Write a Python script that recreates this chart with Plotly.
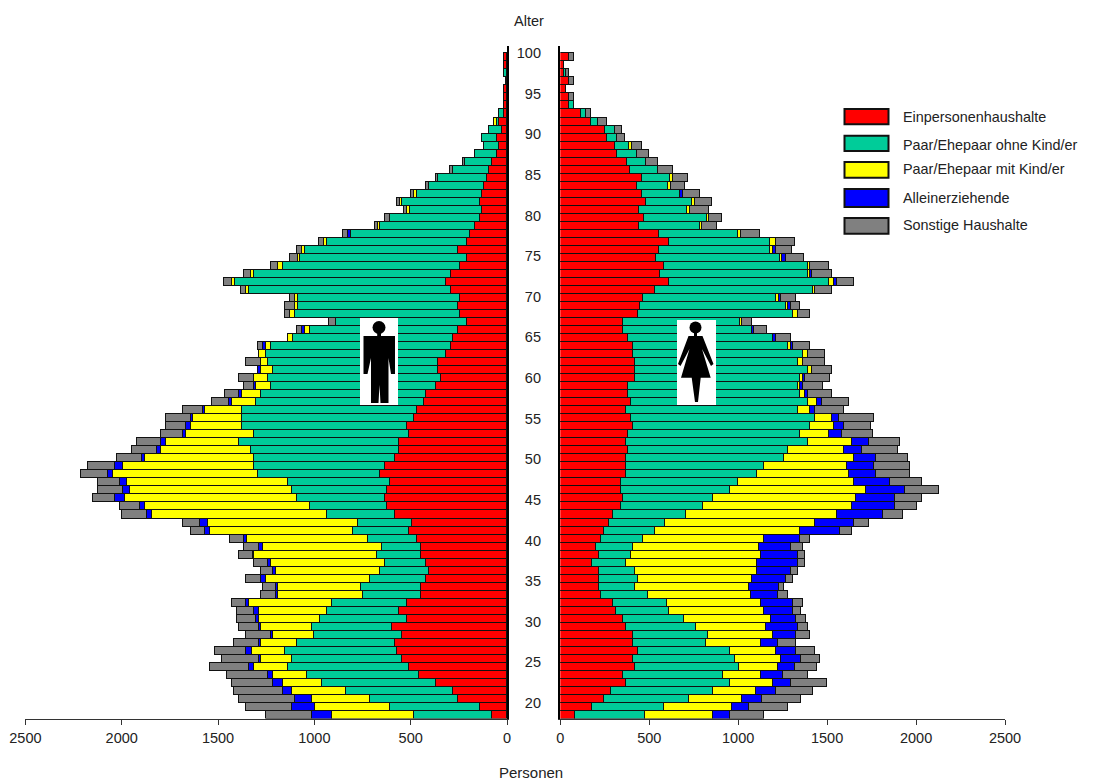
import plotly.graph_objects as go

W, H = 1114, 781
ages = list(range(18, 101))
age_labels = list(range(20, 101, 5))
series_names = ["Einpersonenhaushalte", "Paar/Ehepaar ohne Kind/er", "Paar/Ehepaar mit Kind/er",
                "Alleinerziehende", "Sonstige Haushalte"]
colors = ["#FF0000", "#00CC99", "#FFFF00", "#0000FF", "#808080"]

male_single = [74,139,254,278,367,454,506,543,569,580,543,595,519,556,519,443,443,417,404,417,443,443,467,506,493,580,619,632,619,606,656,632,580,556,556,506,519,480,467,430,417,367,341,354,354,315,291,278,254,204,241,254,241,291,315,291,241,204,254,204,191,165,139,128,139,128,115,102,91,76,52,41,52,26,41,15,15,15,15,4,0,15,15]
male_couple = [408,467,454,556,593,584,630,569,580,506,456,415,452,378,389,304,313,291,254,215,228,202,254,291,278,354,404,454,493,530,632,680,732,769,832,806,856,895,908,871,858,856,897,858,884,934,932,832,767,680,856,830,843,1047,1097,1021,921,867,791,728,615,491,465,376,404,339,289,252,187,139,113,74,76,63,11,26,0,0,0,0,15,0,0]
male_family = [426,389,302,278,202,176,176,161,174,187,213,263,315,352,428,439,430,539,539,591,641,617,628,741,780,908,856,893,841,832,756,680,567,467,378,352,263,254,189,124,100,76,74,61,35,37,26,26,26,0,28,13,13,13,13,13,24,13,15,15,0,13,0,13,11,15,0,0,0,0,0,0,0,0,13,0,0,0,0,0,0,0,0]
male_lone = [102,117,87,50,52,24,26,13,28,13,13,13,15,26,17,13,13,28,15,15,2,24,13,26,39,26,26,52,39,37,24,39,13,24,26,15,26,11,13,15,13,13,0,15,0,0,13,0,17,0,0,0,0,0,0,0,0,0,0,0,15,0,0,0,0,0,0,0,0,0,0,0,0,0,0,0,0,0,0,0,0,0,0]
male_other = [239,241,293,252,213,213,202,191,163,128,126,102,100,89,74,76,65,78,63,74,76,76,76,76,89,126,102,117,128,115,141,141,128,128,126,113,102,126,102,89,76,50,76,0,78,0,26,0,24,39,24,52,26,26,41,39,39,39,26,26,28,13,26,15,13,13,15,13,15,13,0,2,0,0,0,0,0,0,0,0,0,0,0]

female_single = [82,178,247,288,369,356,423,410,438,410,410,369,356,315,300,232,219,219,219,178,219,204,232,247,273,300,341,356,341,341,369,369,369,382,369,382,410,397,369,397,382,382,423,423,423,410,410,382,356,356,436,451,465,534,614,560,586,542,554,610,554,445,473,445,485,459,431,459,391,377,321,309,267,255,173,116,48,48,34,48,20,20,48]
female_couple = [395,408,476,571,588,558,586,575,519,408,423,397,341,300,302,260,204,217,204,191,178,206,232,287,315,410,465,504,616,657,738,779,888,901,1025,970,996,1038,970,996,970,957,929,970,916,955,873,818,723,654,875,818,751,886,899,833,807,696,628,572,449,343,355,269,257,217,177,162,162,108,110,80,54,54,40,28,28,0,0,0,14,0,0]
female_family = [382,380,300,243,243,217,217,257,258,313,367,393,491,532,530,584,641,641,682,736,734,708,682,817,847,847,833,805,764,654,517,463,395,315,245,163,137,96,67,54,26,11,13,26,26,28,15,0,0,13,28,13,13,15,26,13,13,10,14,30,14,12,12,18,18,0,14,14,0,0,0,14,0,0,0,0,0,0,0,0,0,0,0]
female_lone = [96,99,111,112,97,125,97,111,111,97,124,180,139,165,180,152,165,193,193,234,208,180,206,221,219,260,245,219,219,204,152,152,124,97,96,69,54,39,28,28,15,15,13,0,0,0,13,15,13,0,0,15,15,0,17,13,0,20,16,0,0,0,0,0,0,16,0,0,0,0,0,0,0,0,0,0,0,0,0,0,0,0,0]
female_other = [193,217,219,206,204,137,124,111,109,97,82,54,54,41,56,54,28,41,41,41,41,69,54,69,81,109,124,152,191,180,191,204,178,204,178,178,152,193,163,150,137,111,139,111,124,96,96,82,69,56,67,54,81,96,97,111,109,106,92,110,110,82,70,108,94,96,82,82,82,68,68,56,42,40,54,28,0,28,0,28,14,0,28]

male = [male_single, male_couple, male_family, male_lone, male_other]
female = [female_single, female_couple, female_family, female_lone, female_other]
for s in male + female:
    assert len(s) == len(ages), len(s)

def px(x):
    return x / W
def py(y):
    return 1 - y / H

TOP, BOTTOM = 46, 718.5
FONT = "Liberation Sans, Arial, sans-serif"
TXT = "#222222"

fig = go.Figure()
for name, color, vals in zip(series_names, colors, male):
    fig.add_trace(go.Bar(y=ages, x=vals, orientation="h", name=name, xaxis="x", yaxis="y",
                         marker=dict(color=color, line=dict(color="#111111", width=1)), showlegend=False))
for name, color, vals in zip(series_names, colors, female):
    fig.add_trace(go.Bar(y=ages, x=vals, orientation="h", name=name, xaxis="x2", yaxis="y2",
                         marker=dict(color=color, line=dict(color="#111111", width=1)), showlegend=False))
fig.add_trace(go.Scatter(x=[None], y=[None], xaxis="x", yaxis="y3", showlegend=False, hoverinfo="skip"))

age_lo = 18 + (715 - BOTTOM) / 8.02
age_hi = 18 + (715 - TOP) / 8.02
label_scale = 80 / 650
lab_lo = 20 - (BOTTOM - 703) * label_scale
lab_hi = 100 + (53 - TOP) * label_scale

xax = dict(tickvals=[0, 500, 1000, 1500, 2000, 2500], ticks="outside", ticklen=5, tickwidth=1, tickcolor="#333333",
           showline=True, linecolor="#333333", linewidth=1, showgrid=False, zeroline=False, automargin=False,
           tickfont=dict(family=FONT, size=14.5, color=TXT), ticklabelstandoff=1)
yax = dict(range=[age_lo, age_hi], showticklabels=False, ticks="", showgrid=False, zeroline=False,
           showline=True, linecolor="#000000", linewidth=2, automargin=False,
           domain=[py(BOTTOM), py(TOP)])

fig.update_layout(
    width=W, height=H, margin=dict(l=0, r=0, t=0, b=0, pad=0, autoexpand=False), autosize=False,
    paper_bgcolor="white", plot_bgcolor="white", barmode="stack", bargap=0,
    font=dict(family=FONT, color=TXT),
    xaxis=dict(domain=[px(25.4), px(507)], range=[2500, 0], anchor="y", **xax),
    xaxis2=dict(domain=[px(560.3), px(1005)], range=[0, 2500], anchor="y2", **xax),
    yaxis=dict(anchor="x", side="right", **yax),
    yaxis2=dict(anchor="x2", side="left", **yax),
    yaxis3=dict(overlaying="y", anchor="free", position=px(541), side="left", range=[lab_lo, lab_hi],
                tickvals=age_labels, ticks="", showline=False, showgrid=False, zeroline=False, automargin=False,
                tickfont=dict(family=FONT, size=14.5, color=TXT)),
)

def path(points):
    return "M " + " L ".join(f"{px(x):.5f} {py(y):.5f}" for x, y in points) + " Z"

def shape(**kw):
    fig.add_shape(xref="paper", yref="paper", layer="above", **kw)

def circle(cx, cy, r):
    shape(type="circle", x0=px(cx - r), x1=px(cx + r), y0=py(cy + r), y1=py(cy - r),
          fillcolor="black", line=dict(width=0))

# pictograms
shape(type="rect", x0=px(360), x1=px(398), y0=py(405), y1=py(318), fillcolor="white", line=dict(width=0))
circle(379, 327.5, 6.5)
shape(type="path", fillcolor="black", line=dict(width=0), path=path([
    (377.2, 332), (381, 332), (381, 336), (395, 336), (395, 374), (391, 374), (388.5, 358), (388.5, 403),
    (380.5, 403), (379.5, 385), (378.5, 403), (371, 403), (371, 358), (367.5, 374), (363.5, 374),
    (363.5, 336), (377.2, 336)]))
shape(type="rect", x0=px(677), x1=px(716), y0=py(405), y1=py(320), fillcolor="white", line=dict(width=0))
circle(695.5, 327.5, 6)
shape(type="path", fillcolor="black", line=dict(width=0), path=path([
    (694, 332), (697, 332), (697, 336), (702.5, 336), (713.5, 364), (711, 366), (702, 349), (710.7, 377.7),
    (700.7, 377.7), (698, 402), (695, 402), (691.7, 377.7), (681, 377.7), (689.5, 349), (680.5, 366),
    (678, 364), (688.5, 336), (694, 336)]))

# legend
swatches = [(109, 124.3, 116.7), (135.7, 151, 145), (162, 177.7, 169), (189, 207, 198), (218, 233.7, 225)]
for (y0, y1, yt), name, color in zip(swatches, series_names, colors):
    shape(type="rect", x0=px(844.5), x1=px(888.5), y0=py(y1), y1=py(y0), fillcolor=color,
          line=dict(color="#111111", width=2))
    fig.add_annotation(xref="paper", yref="paper", x=px(901), y=py(yt), text=name, showarrow=False,
                       xanchor="left", yanchor="middle", font=dict(family=FONT, size=14.4, color=TXT))

for txt, x, y, sz in [("Alter", 529, 21, 14.5), ("Personen", 531, 772, 15)]:
    fig.add_annotation(xref="paper", yref="paper", x=px(x), y=py(y), text=txt, showarrow=False,
                       xanchor="center", yanchor="middle", font=dict(family=FONT, size=sz, color=TXT))

fig.write_html("out.html", config={"displayModeBar": False},
               post_script="document.body.style.margin='0';document.documentElement.style.overflow='hidden';")
